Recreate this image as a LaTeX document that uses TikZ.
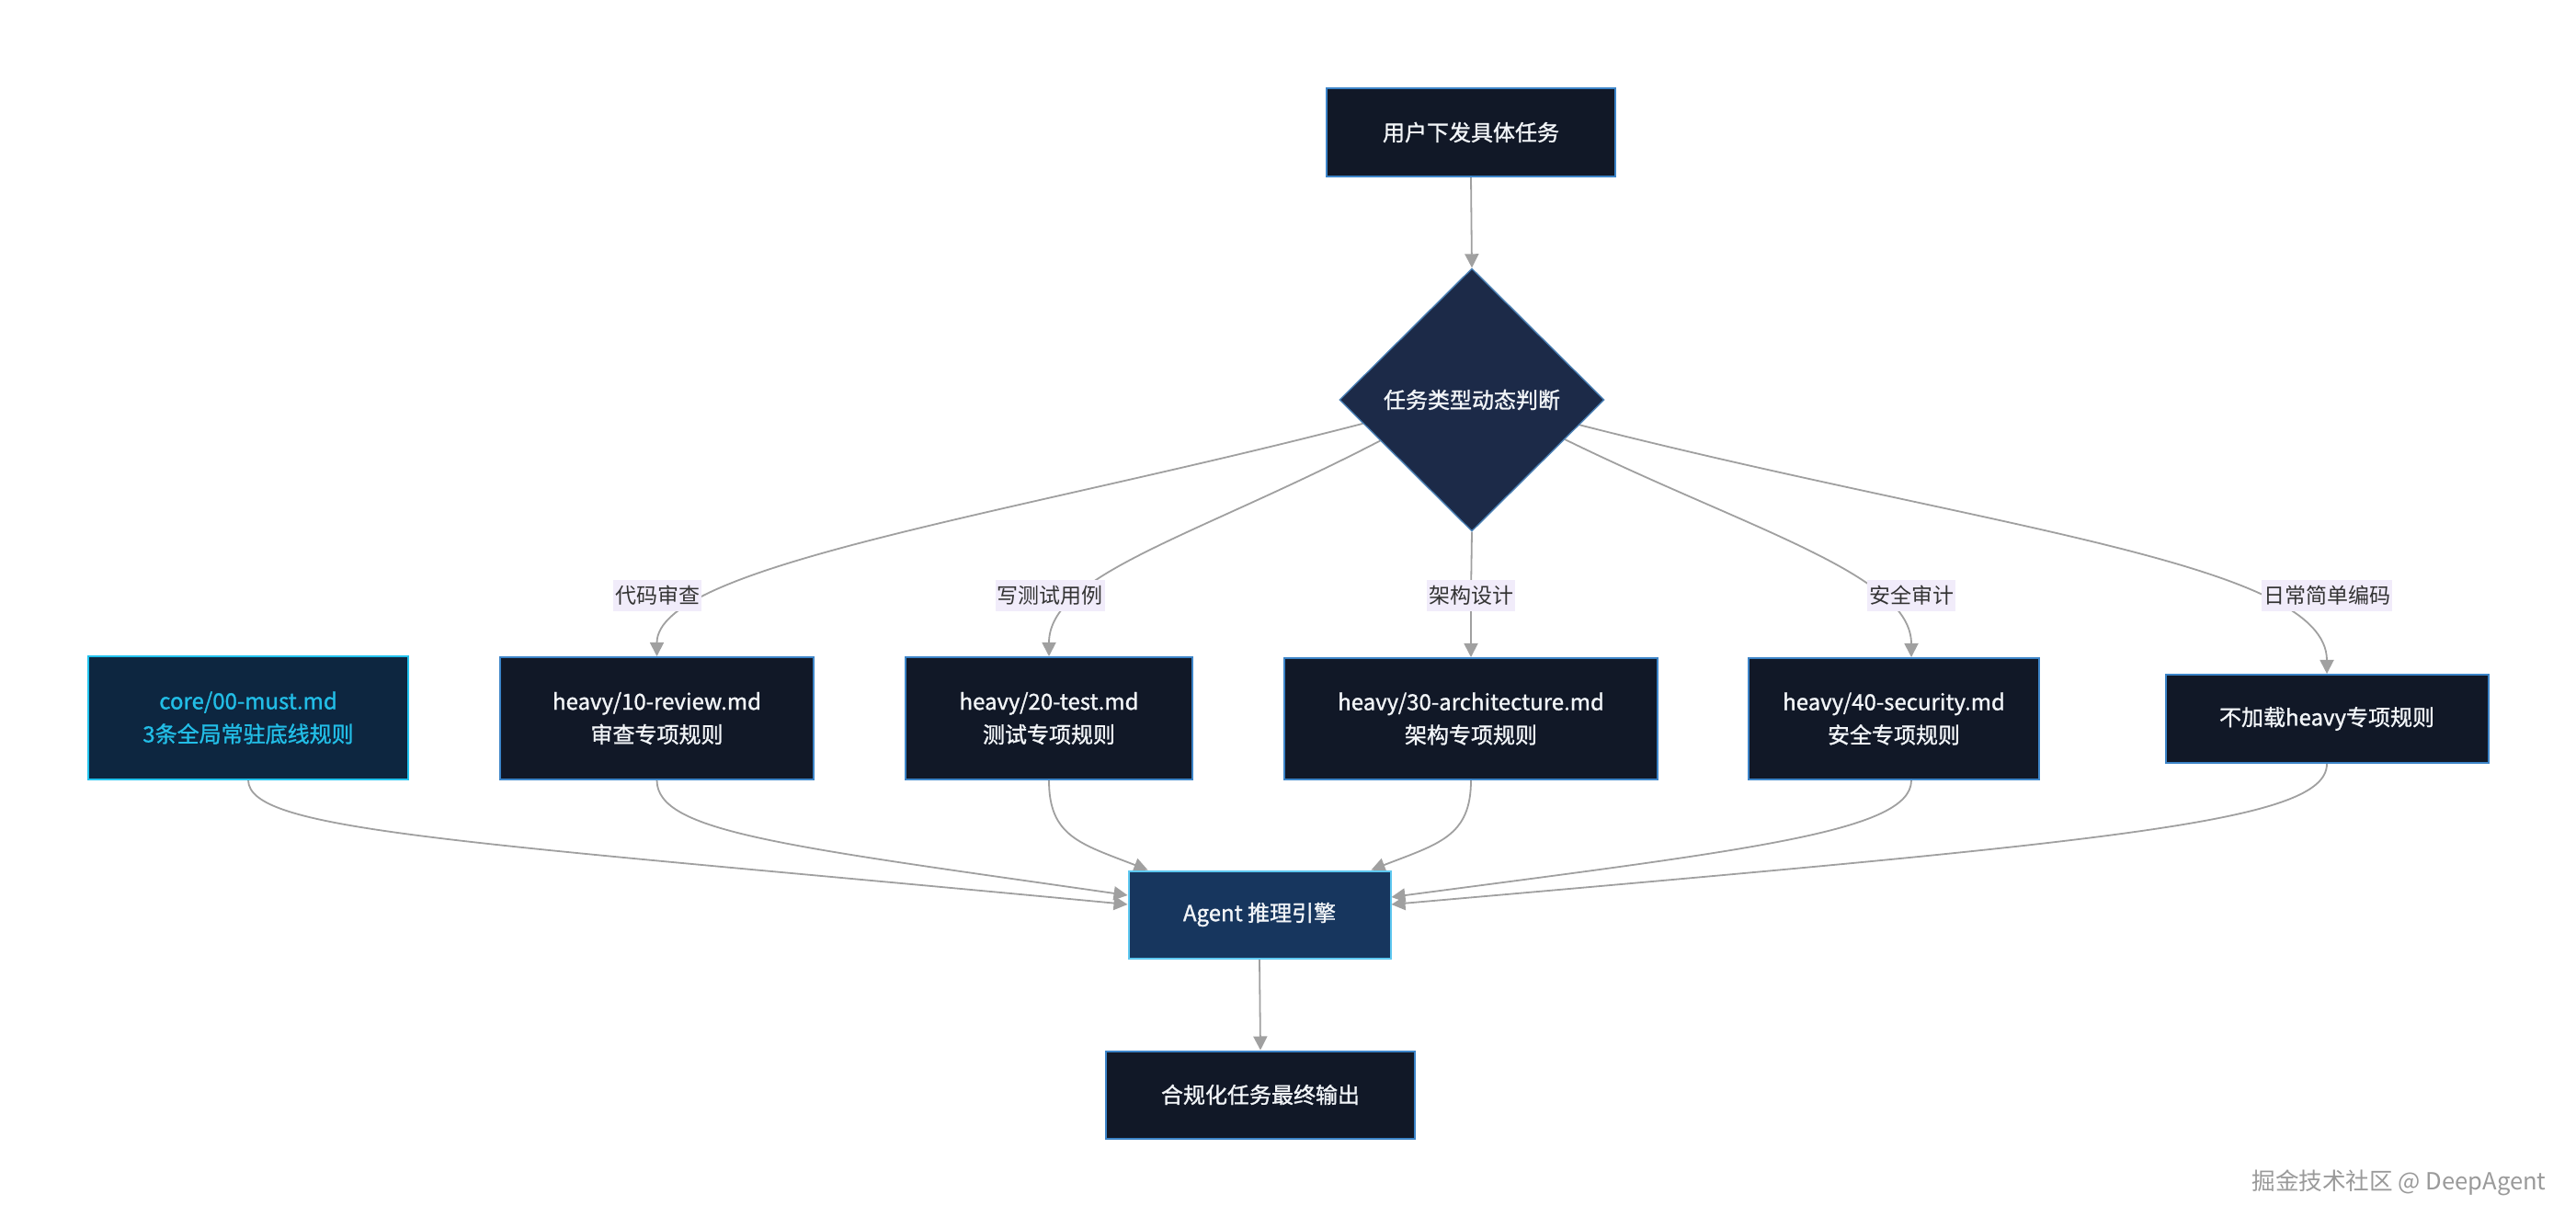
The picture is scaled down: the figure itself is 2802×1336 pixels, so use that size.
\documentclass[tikz,border=0pt]{standalone}
\usepackage{fontspec}
\setmainfont{Noto Sans CJK SC}
\newfontfamily\boxfont{Noto Sans CJK SC}[FakeBold=1.2]
\usetikzlibrary{shapes.geometric,arrows.meta,calc,backgrounds}
\definecolor{boxfill}{HTML}{111827}
\definecolor{boxline}{HTML}{3C84C8}
\definecolor{diafill}{HTML}{1C2A48}
\definecolor{dialine}{HTML}{4A80B5}
\definecolor{corefill}{HTML}{0D2640}
\definecolor{coreline}{HTML}{22C3EE}
\definecolor{coretext}{HTML}{22BDE6}
\definecolor{agentfill}{HTML}{17365E}
\definecolor{agentline}{HTML}{5EC8F0}
\definecolor{edgecol}{HTML}{A0A0A0}
\definecolor{lblfill}{HTML}{F1ECFA}
\definecolor{lbltext}{HTML}{333333}
\definecolor{txt}{HTML}{F2F5F8}
\definecolor{wmcol}{HTML}{9A9A9A}
\tikzset{
  rulebox/.style={draw=boxline, fill=boxfill, line width=1pt, text=txt, align=center,
    font=\boxfont\fontsize{12}{18}\selectfont, inner sep=0pt},
  corebox/.style={rulebox, draw=coreline, fill=corefill, text=coretext},
  agentbox/.style={rulebox, draw=agentline, fill=agentfill},
  decision/.style={diamond, draw=dialine, fill=diafill, line width=0.7pt, text=txt,
    font=\boxfont\fontsize{12}{18}\selectfont, inner sep=0pt, aspect=1},
  lbl/.style={fill=lblfill, text=lbltext, font=\fontsize{11.5}{14}\selectfont,
    inner xsep=1pt, inner ysep=0pt, minimum height=17pt},
  edge/.style={draw=edgecol, line width=0.9pt,
    -{Triangle[width=7.5pt,length=7.5pt,fill=edgecol]}},
}
\begin{document}
\begin{tikzpicture}[x=0.5pt, y=-0.5pt]
\useasboundingbox (0,0) rectangle (2802,1336);

% nodes
\node[rulebox, minimum width=157pt, minimum height=48pt] (task) at (1600,144) {用户下发具体任务};
\node[decision, minimum width=144pt, minimum height=143pt] (judge) at (1601,435) {任务类型动态判断};

\node[corebox, minimum width=174pt, minimum height=66.5pt] (core) at (270,781) {core/00-must.md\\3条全局常驻底线规则};
\node[rulebox, minimum width=170.5pt, minimum height=66.5pt] (review) at (714.5,781.5) {heavy/10-review.md\\审查专项规则};
\node[rulebox, minimum width=156pt, minimum height=66.5pt] (test) at (1141,781.5) {heavy/20-test.md\\测试专项规则};
\node[rulebox, minimum width=203pt, minimum height=66pt] (arch) at (1600,782) {heavy/30-architecture.md\\架构专项规则};
\node[rulebox, minimum width=158pt, minimum height=66pt] (sec) at (2060,782) {heavy/40-security.md\\安全专项规则};
\node[rulebox, minimum width=175.5pt, minimum height=48pt] (noload) at (2531,782) {不加载heavy专项规则};

\node[agentbox, minimum width=142.5pt, minimum height=47.5pt] (agent) at (1370,995) {Agent 推理引擎};
\node[rulebox, minimum width=168pt, minimum height=47.5pt] (final) at (1371,1191) {合规化任务最终输出};

% edge labels
\node[lbl] (l1) at (715,648) {代码审查};
\node[lbl] (l2) at (1142,648) {写测试用例};
\node[lbl] (l3) at (1600,648) {架构设计};
\node[lbl] (l4) at (2079,648) {安全审计};
\node[lbl] (l5) at (2531,648) {日常简单编码};

\node[anchor=east, text=wmcol, font=\fontsize{12.8}{15}\selectfont, inner sep=0pt] (wm) at (2770,1287) {掘金技术社区 @ DeepAgent};

% connectors
\begin{scope}[on background layer]
\fill[white] (0,0) rectangle (2802,1336);
\draw[edge] (task.south) -- (judge.north);

\draw[edge] ($(judge.west)!0.18!(judge.south)$) .. controls (1100,560) and (714.5,615) .. (review.north);
\draw[edge] ($(judge.west)!0.31!(judge.south)$) .. controls (1300,584) and (1141,625) .. (test.north);
\draw[edge] (judge.south) -- (l3.center) -- (arch.north);
\draw[edge] ($(judge.east)!0.30!(judge.south)$) .. controls (1902,576) and (2079,625) .. (sec.north -| l4.center);
\draw[edge] ($(judge.east)!0.19!(judge.south)$) .. controls (2160,575) and (2531,612) .. (noload.north);

\draw[edge] (core.south) .. controls (270,905) and (500,915) .. ($(agent.west)+(0,-11)$);
\draw[edge] (review.south) .. controls (715,905) and (850,920) .. ($(agent.west)+(0,-21)$);
\draw[edge] (test.south) .. controls (1141,910) and (1175,918) .. ($(agent.north west)+(22,0)$);
\draw[edge] (arch.south) .. controls (1600,910) and (1565,918) .. ($(agent.north east)+(-22,0)$);
\draw[edge] (sec.south -| l4.center) .. controls (2079,905) and (1900,925) .. ($(agent.east)+(0,-19)$);
\draw[edge] (noload.south) .. controls (2531,895) and (2300,915) .. ($(agent.east)+(0,-11)$);

\draw[edge] (agent.south) -- (final.north);
\end{scope}
\end{tikzpicture}
\end{document}
